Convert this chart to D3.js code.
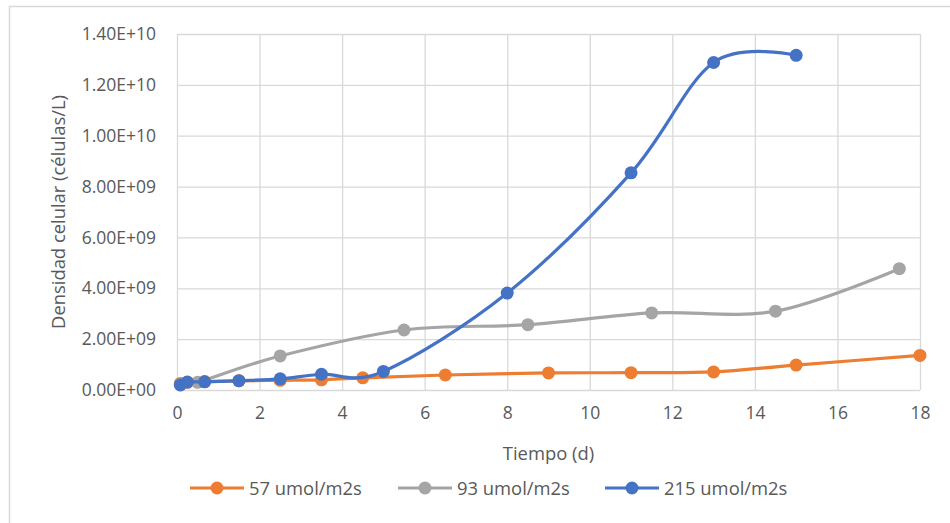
<!DOCTYPE html>
<html>
<head>
<meta charset="utf-8">
<script src="https://cdn.jsdelivr.net/npm/d3@7"></script>
<style>
  body { margin: 0; background: #fff; }
  svg { display: block; font-family: "Open Sans", sans-serif; }
</style>
</head>
<body>
<svg id="canvas" width="950" height="523"></svg>
<script>
// data
let xTicks = [0, 2, 4, 6, 8, 10, 12, 14, 16, 18]
let yTicks = [0, 2e9, 4e9, 6e9, 8e9, 1e10, 1.2e10, 1.4e10]

let seriesNames = ['57 umol/m2s', '93 umol/m2s', '215 umol/m2s']
let seriesColors = ['#ED7D31', '#A5A5A5', '#4472C4']

let days57 = [0.08, 0.25, 0.67, 1.5, 2.5, 3.5, 4.5, 6.5, 9, 11, 13, 15, 18]
let dens57 = [2.6e8, 3.0e8, 3.3e8, 3.6e8, 3.8e8, 4.0e8, 4.8e8, 5.9e8, 6.7e8, 6.8e8, 7.1e8, 9.8e8, 1.36e9]

let days93 = [0.08, 0.5, 2.5, 5.5, 8.5, 11.5, 14.5, 17.5]
let dens93 = [2.2e8, 3.0e8, 1.34e9, 2.36e9, 2.57e9, 3.03e9, 3.1e9, 4.77e9]

let days215 = [0.08, 0.25, 0.67, 1.5, 2.5, 3.5, 5, 8, 11, 13, 15]
let dens215 = [2.0e8, 3.1e8, 3.2e8, 3.65e8, 4.4e8, 6.2e8, 7.3e8, 3.81e9, 8.54e9, 1.288e10, 1.316e10]

let allDays = [days57, days93, days215]
let allDens = [dens57, dens93, dens215]

let canvas = d3.select('#canvas')

var margin = { top: 34, right: 30, bottom: 133, left: 177 },
  width = 950 - margin.left - margin.right,
  height = 523 - margin.top - margin.bottom;

// outer chart border (runs off the right and bottom of the picture)
canvas.append('rect')
  .attr('x', 9.5).attr('y', 6.5)
  .attr('width', 960).attr('height', 540)
  .attr('fill', 'none')
  .attr('stroke', '#d9d9d9')
  .attr('stroke-width', 1.5)

let g = canvas.append('g')
  .attr('transform', 'translate(' + margin.left + ',' + margin.top + ')')

let x = d3.scaleLinear().domain([0, 18]).range([0, width])
let y = d3.scaleLinear().domain([0, 1.4e10]).range([height, 0])

// gridlines
g.append('g')
  .attr('transform', 'translate(0,' + height + ')')
  .call(d3.axisBottom(x).tickValues(xTicks).tickSize(-height).tickFormat(''))
  .call(ax => ax.select('.domain').remove())
  .selectAll('line').attr('stroke', '#d9d9d9').attr('stroke-width', 1.3)

g.append('g')
  .call(d3.axisLeft(y).tickValues(yTicks).tickSize(-width).tickFormat(''))
  .call(ax => ax.select('.domain').remove())
  .selectAll('line').attr('stroke', '#d9d9d9').attr('stroke-width', 1.3)

// tick labels
let yAxis = g.append('g')
  .call(d3.axisLeft(y).tickValues(yTicks).tickSize(0).tickPadding(21)
    .tickFormat(d => d.toExponential(2).toUpperCase().replace(/E\+(\d)$/, 'E+0$1')))
yAxis.select('.domain').remove()
yAxis.selectAll('text')
  .attr('fill', '#595959')
  .style('font-size', '17.5px')
  .style('font-family', '"Open Sans", sans-serif')

let xAxis = g.append('g')
  .attr('transform', 'translate(0,' + height + ')')
  .call(d3.axisBottom(x).tickValues(xTicks).tickSize(0).tickPadding(17))
xAxis.select('.domain').remove()
xAxis.selectAll('text')
  .attr('fill', '#595959')
  .style('font-size', '17.5px')
  .style('font-family', '"Open Sans", sans-serif')

// axis titles
canvas.append('text')
  .attr('transform', 'translate(65,212) rotate(-90)')
  .attr('text-anchor', 'middle')
  .attr('fill', '#595959')
  .style('font-size', '18.4px')
  .text('Densidad celular (células/L)')

canvas.append('text')
  .attr('x', margin.left + width / 2)
  .attr('y', 460)
  .attr('text-anchor', 'middle')
  .attr('fill', '#595959')
  .style('font-size', '18.4px')
  .text('Tiempo (d)')

// smoothed lines + markers
let line = d3.line()
  .x(d => x(d[0]))
  .y(d => y(d[1]))
  .curve(d3.curveCardinal.tension(0))

for (let i = 0; i < seriesNames.length; i++) {
  let pts = allDays[i].map((d, j) => [d, allDens[i][j]])
  g.append('path')
    .datum(pts)
    .attr('d', line)
    .attr('fill', 'none')
    .attr('stroke', seriesColors[i])
    .attr('stroke-width', 3.2)
    .attr('stroke-linecap', 'round')
  g.selectAll('.dot' + i)
    .data(pts)
    .enter()
    .append('circle')
    .attr('class', 'dot' + i)
    .attr('cx', d => x(d[0]))
    .attr('cy', d => y(d[1]))
    .attr('r', 6.5)
    .attr('fill', seriesColors[i])
}

// legend
let legendX = [190, 398, 605]
let legend = canvas.append('g')
seriesNames.forEach((name, i) => {
  let lg = legend.append('g').attr('transform', 'translate(' + legendX[i] + ',488)')
  lg.append('line')
    .attr('x1', 0).attr('x2', 54)
    .attr('y1', 0).attr('y2', 0)
    .attr('stroke', seriesColors[i])
    .attr('stroke-width', 3.2)
  lg.append('circle')
    .attr('cx', 27).attr('cy', 0).attr('r', 6.5)
    .attr('fill', seriesColors[i])
  lg.append('text')
    .attr('x', 59).attr('y', 6.5)
    .attr('fill', '#595959')
    .style('font-size', '18.4px')
    .text(name)
})
</script>
</body>
</html>
